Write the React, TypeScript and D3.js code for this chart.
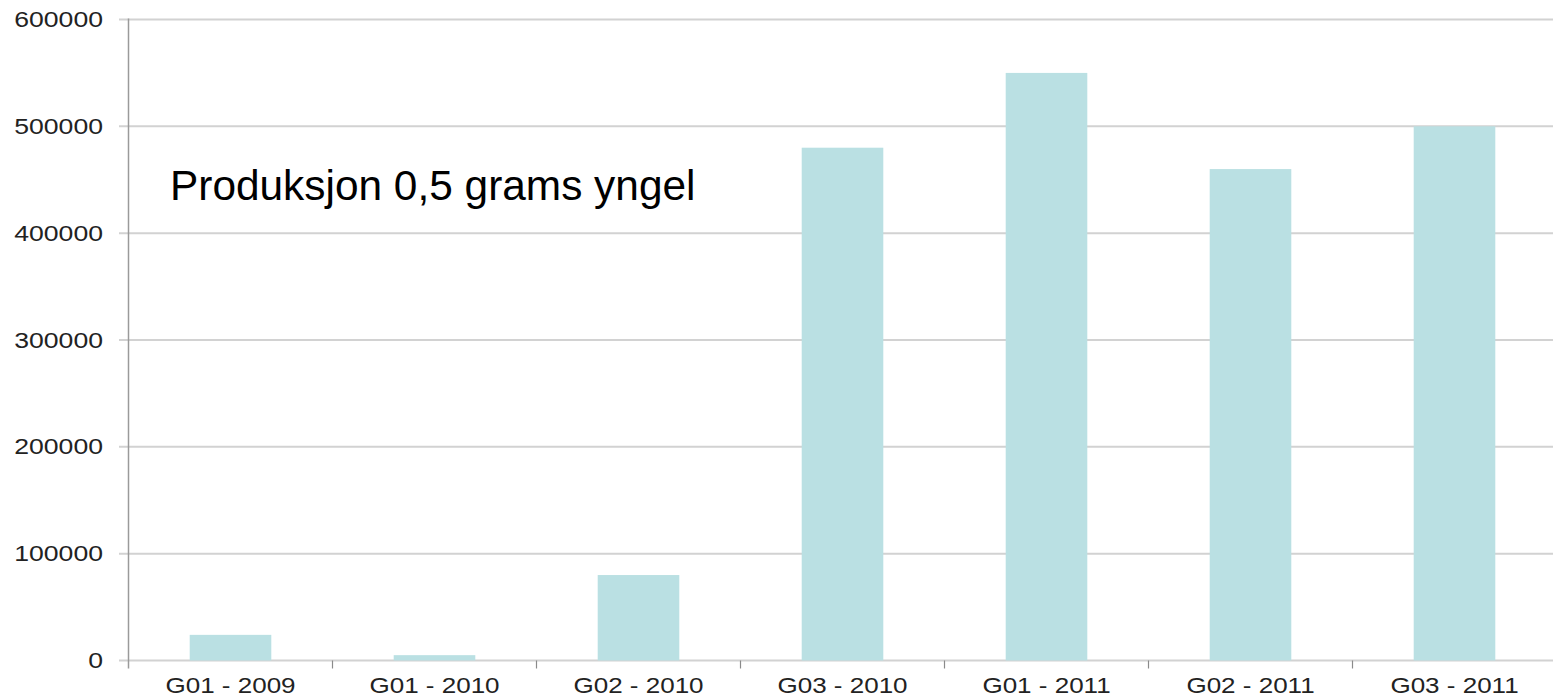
import React from "react";
import * as d3 from "d3";

const categories = ["G01 - 2009", "G01 - 2010", "G02 - 2010", "G03 - 2010", "G01 - 2011", "G02 - 2011", "G03 - 2011"];
const values = [24000, 5000, 80000, 480000, 550000, 460000, 500000];
const yTicks = [0, 100000, 200000, 300000, 400000, 500000, 600000];
const title = "Produksjon 0,5 grams yngel";

const W = 1553;
const H = 698;
const left = 128.5;
const right = left + 7 * 204;
const yZero = 660.5;
const yTop = 19.5;
const stretch = 1.21;

export default function App() {
  const x = d3.scaleBand<string>().domain(categories).range([left, right]).padding(0);
  const y = d3.scaleLinear().domain([0, 600000]).range([yZero, yTop]);
  const bw = x.bandwidth() * 0.4;
  const font = "'Liberation Sans', Arial, Helvetica, sans-serif";
  return (
    <svg width={W} height={H} style={{ position: "absolute", left: 0, top: 0, background: "#fff" }} fontFamily={font}>
      {yTicks.map((t) => (
        <g key={t}>
          <line x1={119} x2={W} y1={y(t)} y2={y(t)} stroke="#d2d2d2" strokeWidth={2} />
          <g transform={`translate(103,${y(t) + 7.5}) scale(${stretch},1)`}>
            <text x={0} y={0} textAnchor="end" fontSize={22} fill="#222">{t}</text>
          </g>
        </g>
      ))}
      {categories.map((c, i) => (
        <rect key={c} x={x(c)! + (x.bandwidth() - bw) / 2} width={bw} y={y(values[i])} height={yZero - y(values[i])} fill="#bae0e3" />
      ))}
      <line x1={left} x2={left} y1={yTop - 1} y2={yZero + 8} stroke="#9a9a9a" strokeWidth={1.5} />
      {categories.slice(1).map((c) => (
        <line key={c} x1={x(c)!} x2={x(c)!} y1={yZero} y2={yZero + 8} stroke="#8a8a8a" strokeWidth={1.2} />
      ))}
      {categories.map((c) => (
        <g key={c} transform={`translate(${x(c)! + x.bandwidth() / 2},693) scale(${stretch},1)`}>
          <text x={0} y={0} textAnchor="middle" fontSize={21.5} fill="#222">{c}</text>
        </g>
      ))}
      <text x={170} y={200} fontSize={42.4} fill="#000">{title}</text>
    </svg>
  );
}
